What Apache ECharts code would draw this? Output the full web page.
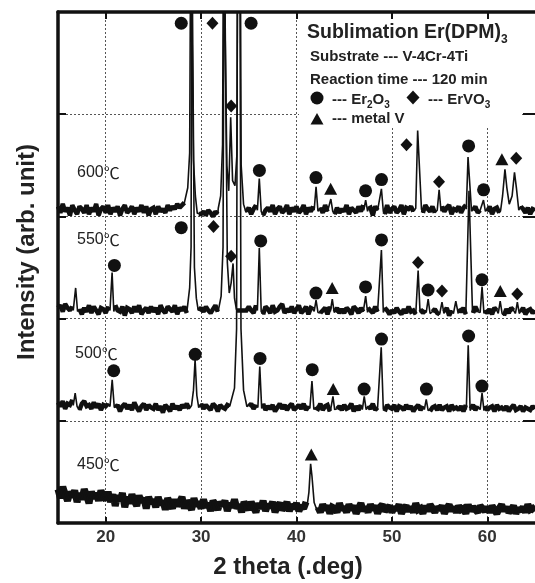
<!DOCTYPE html>
<html>
<head>
<meta charset="utf-8">
<script src="https://cdn.jsdelivr.net/npm/echarts@6/dist/echarts.min.js"></script>
<style>
html, body { margin: 0; padding: 0; background: #fff; }
#chart { width: 535px; height: 583px; }
</style>
</head>
<body>
<div id="chart"></div>
<script>
// baseline noise is sampled every 0.25 deg from 15 deg, in 1/80 of a band
var X_START = 15, X_STEP = 0.25, NOISE_UNIT = 80;
var xTicks = [20, 30, 40, 50, 60];
var tempLabels = ['600', '550', '500', '450'];
var baseLevels = [3.06, 2.08, 1.13, 0.18];

var noise600 = [
    3,-2,5,-1,2,-4,4,0,-3,3,1,-2,4,-3,2,-1,5,-4,1,3,
    -2,4,-3,2,-1,3,-4,1,4,-2,0,3,-3,2,-1,4,-2,3,-4,1,
    2,-3,3,-1,1,-2,4,0,3,1,5,2,4,6,3,0,0,0,-1,-3,
    -3,-1,-4,0,-2,-5,-1,-3,1,-4,0,-2,2,0,1,2,3,1,0,-1,
    2,-3,1,4,-2,3,-4,0,2,-1,4,-3,1,3,-2,0,4,-3,2,-1,
    3,-2,0,4,-3,2,-1,3,-4,1,2,-2,4,-1,0,3,-3,2,-2,1,
    -1,4,-3,2,0,-2,3,-1,4,-3,1,2,-4,3,0,-1,2,-3,4,-2,
    1,3,-2,0,4,-3,2,1,3,-1,2,0,3,-2,4,1,-1,3,-2,2,
    0,3,-1,2,4,-3,1,0,3,-2,2,4,-1,1,0,3,-2,0,2,-3,
    -1,3,-3,1,2,-2,4,0,-1,3,1,-3,2,0,3,1,-2,2,-3,1,0
];
var noise550 = [
    2,4,-1,5,2,0,3,-2,4,1,-3,2,-1,4,-2,3,0,-3,2,1,
    -2,3,1,-3,4,0,-1,3,-4,2,1,-2,3,-1,4,-3,0,2,-2,3,
    -1,2,-3,4,0,-2,3,1,-1,4,-3,2,0,3,-2,1,0,0,0,0,
    2,-1,3,0,-2,1,4,-1,2,5,3,6,4,0,0,0,0,0,0,0,
    3,0,-2,4,-1,2,-3,3,1,-2,4,-1,0,3,5,-2,1,-1,3,-2,
    1,4,-2,0,3,-3,2,1,-1,3,-2,0,2,-3,3,0,-1,2,-2,1,
    -2,2,0,-3,3,1,-2,2,-1,-3,2,0,-2,3,-1,1,-4,2,0,-3,
    0,-2,2,-1,-3,1,-2,3,-1,0,-3,2,1,-2,0,-4,2,-1,1,-2,
    -3,1,-1,2,-4,0,3,-2,1,-1,2,-3,0,1,-2,3,-1,-4,2,0,
    -2,1,-3,2,0,-1,3,-4,1,-2,2,0,-3,1,-1,2,-3,0,1,-2,0
];
var noise500 = [
    4,1,5,-1,3,2,6,0,4,-2,3,5,1,2,-1,4,0,3,-2,2,
    1,3,-2,4,0,2,-3,1,3,-1,2,-2,4,0,-3,1,3,-2,2,0,
    -1,3,-2,1,-4,2,0,-3,3,-1,1,-2,2,0,3,-1,4,2,5,1,
    3,-1,2,0,-2,3,1,-3,2,0,-1,2,1,4,2,3,5,4,3,2,
    1,3,-1,2,-2,0,3,-2,1,-1,2,-3,0,3,-1,2,-2,1,3,-2,
    0,2,-1,3,-2,1,-3,2,0,-1,3,-2,1,2,-3,0,2,-1,1,-2,
    2,-1,0,3,-3,1,-2,2,0,-3,1,-1,3,-2,0,2,-1,-3,2,0,
    -1,2,-3,1,0,-2,2,-1,1,-3,0,2,-2,1,-1,3,-3,0,1,-2,
    2,-2,0,1,-3,2,-1,0,-2,1,-3,2,0,-1,2,-2,1,-3,0,1,
    -2,0,1,-3,2,-1,0,-2,1,-3,0,2,-2,-1,1,-3,0,-1,-2,1,-1
];
var noise450 = [
    12,5,14,8,3,10,6,11,2,9,4,12,7,1,10,5,9,3,11,6,
    4,10,2,8,-1,7,3,9,-2,6,1,8,3,-1,7,2,5,-3,6,1,
    4,-2,6,0,3,-4,5,1,-3,4,-1,2,6,-3,3,0,-4,5,-1,2,
    -3,4,-2,1,-5,3,0,-4,2,-1,3,-5,1,-2,4,-3,0,-6,2,-1,
    -4,2,-2,-6,1,-3,3,-5,0,-2,2,-6,-1,1,-4,-2,2,-5,0,-3,
    1,-5,-1,-3,2,0,0,0,0,-2,-6,0,-4,-1,-7,-2,-3,-6,1,-4,
    -2,-6,0,-4,-1,-7,-3,1,-5,-2,-6,0,-4,-1,-7,-2,0,-5,-3,-1,
    -6,-2,-4,0,-7,-3,-1,-5,-2,-6,1,-4,-3,-7,-1,-5,0,-3,-6,-2,
    -4,-1,-7,-3,0,-5,-2,-6,-1,-4,-3,-7,0,-5,-2,-4,-6,-1,-3,-5,
    -2,-6,-1,-4,-7,-3,0,-5,-2,-6,-4,-1,-7,-3,-5,-2,-6,0,-4,-3,-5
];

// peak outlines [2theta, intensity] (tall ones run off the top)
var peaks600 = [
    [[28.4,3.12],[28.6,3.28],[28.8,3.62],[28.92,6],[29.08,6],[29.2,3.55],[29.4,3.2],[29.6,3.03]],
    [[31.8,3.08],[32.05,3.2],[32.25,3.7],[32.35,6],[32.55,6],[32.7,3.5],[32.9,3.25],[33.1,3.97],[33.3,3.35],[33.55,3.3],[33.75,3.6],[33.85,6],[34.1,6],[34.2,3.5],[34.45,3.12],[34.7,3.04]],
    [[35.9,3.06],[36.1,3.37],[36.3,3.05]],
    [[41.85,3.06],[42.05,3.29],[42.25,3.05]],
    [[43.4,3.05],[43.6,3.17],[43.8,3.05]],
    [[47.05,3.06],[47.25,3.16],[47.45,3.05]],
    [[48.7,3.06],[48.9,3.27],[49.1,3.05]],
    [[52.5,3.08],[52.7,3.84],[52.9,3.84],[53.1,3.07]],
    [[54.75,3.06],[54.95,3.26],[55.15,3.05]],
    [[57.8,3.07],[57.98,3.58],[58.12,3.58],[58.35,3.05]],
    [[59.4,3.05],[59.6,3.16],[59.8,3.05]],
    [[61.4,3.06],[61.6,3.2],[61.85,3.46],[62.05,3.28],[62.3,3.12],[62.6,3.2],[62.85,3.43],[63.05,3.28],[63.3,3.06]]
];
var peaks550 = [
    [[16.6,2.08],[16.85,2.3],[17.05,2.07]],
    [[20.45,2.08],[20.67,2.45],[20.85,2.07]],
    [[28.55,2.1],[28.8,2.3],[28.95,2.7],[29.02,6],[29.18,6],[29.3,2.5],[29.5,2.2],[29.7,2.08]],
    [[31.85,2.1],[32.1,2.22],[32.3,2.7],[32.42,6],[32.6,6],[32.75,2.55],[32.95,2.25],[33.15,2.35],[33.35,2.54],[33.5,2.2],[33.7,2.09]],
    [[35.9,2.08],[36.1,2.69],[36.3,2.07]],
    [[41.85,2.07],[42.05,2.18],[42.25,2.06]],
    [[43.55,2.07],[43.75,2.19],[43.95,2.06]],
    [[47.05,2.06],[47.25,2.22],[47.45,2.06]],
    [[48.7,2.07],[48.9,2.67],[49.1,2.06]],
    [[52.55,2.06],[52.75,2.47],[52.95,2.06]],
    [[53.6,2.06],[53.8,2.19],[54.0,2.05]],
    [[55.05,2.06],[55.25,2.16],[55.45,2.05]],
    [[56.45,2.05],[56.7,2.17],[56.95,2.05]],
    [[57.9,2.06],[58.08,3.25],[58.25,3.25],[58.45,2.06]],
    [[59.25,2.06],[59.45,2.31],[59.65,2.05]],
    [[61.15,2.05],[61.35,2.17],[61.55,2.05]],
    [[62.95,2.05],[63.15,2.16],[63.35,2.05]]
];
var peaks500 = [
    [[16.6,1.15],[16.8,1.27],[17.0,1.14]],
    [[20.45,1.14],[20.68,1.4],[20.9,1.13]],
    [[29.0,1.15],[29.2,1.3],[29.37,1.6],[29.55,1.25],[29.75,1.13]],
    [[33.2,1.15],[33.5,1.32],[33.72,1.9],[33.82,6],[34.05,6],[34.18,1.9],[34.45,1.3],[34.8,1.14]],
    [[35.95,1.13],[36.15,1.53],[36.35,1.12]],
    [[41.4,1.12],[41.62,1.39],[41.82,1.11]],
    [[43.6,1.12],[43.82,1.24],[44.0,1.11]],
    [[46.9,1.11],[47.1,1.24],[47.3,1.11]],
    [[48.65,1.12],[48.88,1.72],[49.1,1.11]],
    [[53.4,1.11],[53.6,1.21],[53.8,1.1]],
    [[57.8,1.11],[58.0,1.74],[58.2,1.1]],
    [[59.25,1.11],[59.45,1.27],[59.65,1.1]]
];
var peaks450 = [
    [[41.1,0.16],[41.3,0.3],[41.48,0.58],[41.62,0.46],[41.85,0.2],[42.05,0.15]]
];

// phase markers
var er2o3Marks = [
    [27.92,4.89],[35.24,4.89],[36.11,3.45],[42.04,3.38],[47.24,3.25],[48.91,3.36],[58.04,3.69],[59.61,3.26],
    [20.91,2.52],[27.92,2.89],[36.25,2.76],[42.04,2.25],[47.24,2.31],[48.91,2.77],[53.79,2.28],[59.44,2.38],
    [20.84,1.49],[29.38,1.65],[36.18,1.61],[41.65,1.50],[47.09,1.31],[48.91,1.80],[53.62,1.31],[58.04,1.83],[59.44,1.34]
];
var ervo3Marks = [
    [31.19,4.89],[33.15,4.08],[51.53,3.70],[54.94,3.34],[63.03,3.57],
    [31.3,2.90],[33.15,2.61],[52.74,2.55],[55.25,2.27],[63.14,2.24]
];
var metalVMarks = [
    [43.58,3.27],[61.53,3.56],
    [43.74,2.30],[61.36,2.27],
    [43.85,1.31],
    [41.55,0.67]
];

var FONT = '"Liberation Sans", Arial, "Noto Sans CJK JP", sans-serif';
var CJK = '"Noto Sans CJK JP", "Liberation Sans", sans-serif';
var INK = '#111';

function inPeak(x, peaks) {
    return peaks.some(function (p) { return x >= p[0][0] && x <= p[p.length - 1][0]; });
}
// noisy baseline; with gaps=true a break is left where each peak sits
function baseline(base, noise, peaks, gaps) {
    var pts = [], wasIn = false;
    noise.forEach(function (n, i) {
        var x = X_START + i * X_STEP;
        var isIn = inPeak(x, peaks);
        if (!isIn) pts.push([x, base + n / NOISE_UNIT]);
        else if (gaps && !wasIn) pts.push([x, null]);
        wasIn = isIn;
    });
    return pts;
}
function fullTrace(base, noise, peaks) {
    var pts = baseline(base, noise, peaks, false);
    peaks.forEach(function (p) { p.forEach(function (q) { pts.push(q); }); });
    return pts.sort(function (a, b) { return a[0] - b[0]; });
}

var noises = [noise600, noise550, noise500, noise450];
var peakSets = [peaks600, peaks550, peaks500, peaks450];
var bandWidths = [4.5, 4.5, 4.5, 7];

var lineSeries = [];
noises.forEach(function (noise, i) {
    // thick noisy band along the baseline
    lineSeries.push({
        type: 'line',
        data: baseline(baseLevels[i], noise, peakSets[i], true),
        showSymbol: false,
        connectNulls: false,
        clip: true,
        lineStyle: { color: INK, width: bandWidths[i], join: 'miter', miterLimit: 1.6 },
        z: 3
    });
    // thin trace with the peaks
    lineSeries.push({
        type: 'line',
        data: fullTrace(baseLevels[i], noise, peakSets[i]),
        showSymbol: false,
        clip: true,
        lineStyle: { color: INK, width: 1.6 },
        z: 3
    });
});

var markSeries = [
    { data: er2o3Marks, symbol: 'circle', symbolSize: 13 },
    { data: ervo3Marks, symbol: 'diamond', symbolSize: [12, 13] },
    { data: metalVMarks, symbol: 'triangle', symbolSize: [13, 12] }
].map(function (m, i) {
    return {
        type: 'scatter',
        data: m.data,
        symbol: m.symbol,
        symbolSize: m.symbolSize,
        xAxisIndex: i === 2 ? 1 : 0,
        yAxisIndex: i === 2 ? 1 : 0,
        itemStyle: { color: INK, opacity: 1 },
        z: 5
    };
});

var tempText = [[77, 173], [77, 240], [75, 354], [77, 465]].map(function (p, i) {
    return {
        type: 'text', x: p[0], y: p[1], z: 2,
        style: {
            text: '{d|' + tempLabels[i] + '}{c|℃}', verticalAlign: 'middle', textVerticalAlign: 'middle',
            rich: {
                d: { font: '16px ' + FONT, fill: '#222' },
                c: { font: '16px ' + CJK, fill: '#222' }
            }
        }
    };
});

var boldText = function (x, y, text, size) {
    return {
        type: 'text', x: x, y: y, z: 2,
        style: { text: text, font: 'bold ' + size + 'px ' + FONT, fill: '#222', verticalAlign: 'middle', textVerticalAlign: 'middle' }
    };
};
var richText = function (x, y, text, size, subSize) {
    return {
        type: 'text', x: x, y: y, z: 2,
        style: {
            text: text, fill: '#222', verticalAlign: 'middle', textVerticalAlign: 'middle',
            rich: {
                t: { font: 'bold ' + size + 'px ' + FONT, fill: '#222', lineHeight: size + 2, verticalAlign: 'bottom' },
                s: { font: 'bold ' + subSize + 'px ' + FONT, fill: '#222', lineHeight: subSize, verticalAlign: 'bottom', padding: [0, 0, -3, 0] }
            }
        }
    };
};

var axisLine = { show: true, onZero: false, lineStyle: { color: INK, width: 3.5 } };

var chart = echarts.init(document.getElementById('chart'), null, { renderer: 'canvas' });
chart.setOption({
    animation: false,
    backgroundColor: '#fff',
    grid: { left: 58, right: 0, top: 12, bottom: 60 },
    xAxis: [{
        type: 'value', min: 15, max: 65, position: 'bottom',
        axisLine: axisLine,
        axisTick: { show: true, inside: true, length: 6, customValues: xTicks, lineStyle: { color: INK, width: 2 } },
        axisLabel: { customValues: xTicks, color: '#333', fontSize: 17, fontWeight: 'bold', fontFamily: FONT, margin: 6 },
        splitLine: { show: true, lineStyle: { type: [2, 2], color: '#555', width: 1 } }
    }, {
        type: 'value', min: 15, max: 65, position: 'top',
        axisLine: axisLine,
        axisTick: { show: true, inside: true, length: 7, customValues: xTicks, lineStyle: { color: INK, width: 2 } },
        axisLabel: { show: false },
        splitLine: { show: false }
    }],
    yAxis: [{
        type: 'value', min: 0, max: 5, interval: 1, position: 'left',
        axisLine: axisLine,
        axisTick: { show: true, inside: true, length: 8, lineStyle: { color: INK, width: 2 } },
        axisLabel: { show: false },
        splitLine: { show: true, lineStyle: { type: [2, 2], color: '#555', width: 1 } }
    }, {
        type: 'value', min: 0, max: 5, interval: 1, position: 'right',
        axisLine: { show: false, onZero: false },
        axisTick: { show: true, inside: true, length: 12, lineStyle: { color: INK, width: 2 } },
        axisLabel: { show: false },
        splitLine: { show: false }
    }],
    series: lineSeries.concat(markSeries),
    graphic: tempText.concat([
        // white box behind the key, hides the grid there
        { type: 'rect', z: 1, shape: { x: 299, y: 20, width: 221, height: 108 }, style: { fill: '#fff' } },
        {
            type: 'text', x: 27, y: 252, rotation: Math.PI / 2,
            style: { text: 'Intensity (arb. unit)', font: 'bold 24px ' + FONT, fill: '#222', align: 'center', textAlign: 'center', verticalAlign: 'middle', textVerticalAlign: 'middle' }
        },
        {
            type: 'text', x: 288, y: 567,
            style: { text: '2 theta (.deg)', font: 'bold 24px ' + FONT, fill: '#222', align: 'center', textAlign: 'center', verticalAlign: 'middle', textVerticalAlign: 'middle' }
        },
        richText(307, 32, '{t|Sublimation Er(DPM)}{s|3}', 19.5, 12),
        boldText(310, 57, 'Substrate --- V-4Cr-4Ti', 15),
        boldText(310, 80, 'Reaction time --- 120 min', 15),
        { type: 'circle', z: 2, shape: { cx: 317, cy: 98, r: 6.5 }, style: { fill: INK } },
        richText(332, 99, '{t|--- Er}{s|2}{t|O}{s|3}', 15, 10),
        { type: 'polygon', z: 2, shape: { points: [[413, 90.5], [419.5, 97.5], [413, 104.5], [406.5, 97.5]] }, style: { fill: INK } },
        richText(428, 99, '{t|--- ErVO}{s|3}', 15, 10),
        { type: 'polygon', z: 2, shape: { points: [[317, 113], [323.5, 124.5], [310.5, 124.5]] }, style: { fill: INK } },
        boldText(332, 119, '--- metal V', 15)
    ])
});
</script>
</body>
</html>
